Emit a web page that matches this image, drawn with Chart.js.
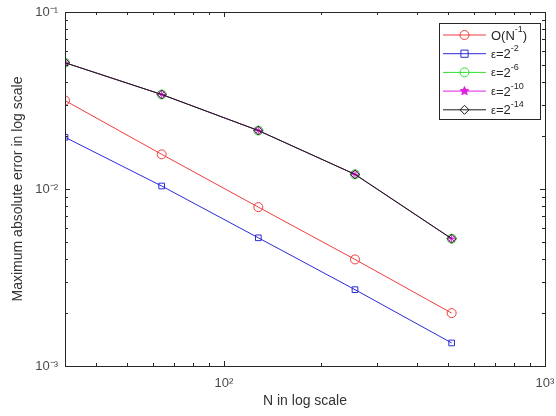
<!DOCTYPE html>
<html>
<head>
<meta charset="utf-8">
<script src="https://cdn.jsdelivr.net/npm/chart.js@4.4.1/dist/chart.umd.min.js"></script>
<style>
html,body{margin:0;padding:0;background:#fff;}
#wrap{width:556px;height:416px;position:relative;}
</style>
</head>
<body>
<div id="wrap"><canvas id="c" width="556" height="416"></canvas></div>
<script>
// ---- data ----
const nValues = [32, 64, 128, 256, 512];
const orderRef = [0.0316, 0.0157, 0.0079, 0.0040, 0.00199];   // O(N^-1)
const eps2m2  = [0.0196, 0.0104, 0.0053, 0.0027, 0.00135];    // eps = 2^-2
const eps2m6  = [0.0517, 0.0342, 0.0214, 0.0121, 0.00524];    // eps = 2^-6
const eps2m10 = [0.0517, 0.0342, 0.0214, 0.0121, 0.00524];    // eps = 2^-10
const eps2m14 = [0.0517, 0.0342, 0.0214, 0.0121, 0.00524];    // eps = 2^-14
const xTickValues = [100, 1000];
const xTickLabels = ['10\u00B2', '10\u00B3'];
const yTickValues = [0.001, 0.01, 0.1];
const yTickLabels = ['10\u207B\u00B3', '10\u207B\u00B2', '10\u207B\u00B9'];
const legendBase = ['O(N', '\u03B5=2', '\u03B5=2', '\u03B5=2', '\u03B5=2'];
const legendSup  = ['-1', '-2', '-6', '-10', '-14'];
const legendTail = [')', '', '', '', ''];
const xTitle = 'N in log scale';
const yTitle = 'Maximum absolute error in log scale';

const series = [
  {data: orderRef, color: '#f03c3c', style: 'circle', fill: 'rgba(0,0,0,0)', order: 5},
  {data: eps2m2,  color: '#2a2ad8', style: 'rect', fill: 'rgba(0,0,0,0)', order: 4},
  {data: eps2m6,  color: '#30e030', style: 'circle', fill: 'rgba(0,0,0,0)', order: 3},
  {data: eps2m10, color: '#e020e0', style: 'star', fill: '#e020e0', order: 2},
  {data: eps2m14, color: '#1a1a1a', style: 'rectRot', fill: 'rgba(0,0,0,0)', order: 1}
];

const FONT = "'Liberation Sans', Arial, Helvetica, sans-serif";

function drawMarker(ctx, style, x, y, r, color, fill) {
  ctx.save();
  ctx.strokeStyle = color; ctx.fillStyle = fill; ctx.lineWidth = 1;
  ctx.beginPath();
  if (style === 'circle') { ctx.arc(x, y, r, 0, Math.PI*2); ctx.fill(); ctx.stroke(); }
  else if (style === 'rect') { const s = r*0.8; ctx.rect(x-s, y-s, 2*s, 2*s); ctx.fill(); ctx.stroke(); }
  else if (style === 'rectRot') { ctx.moveTo(x, y-r); ctx.lineTo(x+r, y); ctx.lineTo(x, y+r); ctx.lineTo(x-r, y); ctx.closePath(); ctx.fill(); ctx.stroke(); }
  else if (style === 'star') {
    for (let i = 0; i < 5; i++) {
      const a1 = -Math.PI/2 + i*2*Math.PI/5, a2 = a1 + Math.PI/5;
      ctx.lineTo(x + r*Math.cos(a1), y + r*Math.sin(a1));
      ctx.lineTo(x + r*0.45*Math.cos(a2), y + r*0.45*Math.sin(a2));
    }
    ctx.closePath(); ctx.fill(); ctx.stroke();
  }
  ctx.restore();
}

const framePlugin = {
  id: 'frame',
  afterDatasetsDraw(chart) {
    const {ctx, chartArea: a, scales: {x, y}} = chart;
    ctx.save();
    ctx.strokeStyle = '#262626';
    ctx.lineWidth = 1;
    ctx.beginPath();
    for (let e = 1; e <= 3; e++) {
      for (let m = 1; m <= 9; m++) {
        const v = m * Math.pow(10, e);
        if (v < 32 || v > 1000) continue;
        const px = Math.round(x.getPixelForValue(v)) + 0.5;
        const len = (m === 1) ? 5 : 3;
        ctx.moveTo(px, a.bottom); ctx.lineTo(px, a.bottom - len);
        ctx.moveTo(px, a.top); ctx.lineTo(px, a.top + len);
      }
    }
    for (let e = -3; e <= -1; e++) {
      for (let m = 1; m <= 9; m++) {
        const v = m * Math.pow(10, e);
        if (v < 0.001 || v > 0.1 + 1e-12) continue;
        const py = Math.round(y.getPixelForValue(v)) + 0.5;
        const len = (m === 1) ? 5 : 3;
        ctx.moveTo(a.left, py); ctx.lineTo(a.left + len, py);
        ctx.moveTo(a.right, py); ctx.lineTo(a.right - len, py);
      }
    }
    ctx.stroke();
    ctx.strokeRect(Math.round(a.left) + 0.5, Math.round(a.top) + 0.5,
                   Math.round(a.right - a.left), Math.round(a.bottom - a.top));
    ctx.restore();
  },
  afterDraw(chart) {
    const ctx = chart.ctx;
    const bx = 439.5, by = 23.5, bw = 101, bh = 96;
    ctx.save();
    ctx.fillStyle = '#fff';
    ctx.fillRect(bx, by, bw, bh);
    ctx.strokeStyle = '#262626';
    ctx.lineWidth = 1;
    ctx.strokeRect(bx, by, bw, bh);
    for (let i = 0; i < series.length; i++) {
      const s = series[i];
      const ry = 35 + i * 18.7;
      ctx.strokeStyle = s.color;
      ctx.beginPath(); ctx.moveTo(443, ry); ctx.lineTo(486, ry); ctx.stroke();
      drawMarker(ctx, s.style, 464.5, ry, 4.5, s.color, s.fill);
      ctx.fillStyle = '#262626';
      ctx.textBaseline = 'middle';
      ctx.textAlign = 'left';
      let tx = 491;
      const baseText = legendBase[i];
      if (i > 0) {
        ctx.font = '11px ' + FONT;
        ctx.fillText(baseText[0], tx, ry + 1);
        tx += ctx.measureText(baseText[0]).width;
        ctx.font = '13px ' + FONT;
        ctx.fillText(baseText.slice(1), tx, ry + 1);
        tx += ctx.measureText(baseText.slice(1)).width;
      } else {
        ctx.font = '13px ' + FONT;
        ctx.fillText(baseText, tx, ry + 1);
        tx += ctx.measureText(baseText).width;
      }
      ctx.font = '9px ' + FONT;
      ctx.fillText(legendSup[i], tx, ry - 5);
      tx += ctx.measureText(legendSup[i]).width;
      if (legendTail[i]) {
        ctx.font = '13px ' + FONT;
        ctx.fillText(legendTail[i], tx, ry + 1);
      }
    }
    ctx.restore();
  }
};

const datasets = series.map((s, i) => ({
  label: legendBase[i] + legendSup[i] + legendTail[i],
  data: nValues.map((n, j) => ({x: n, y: s.data[j]})),
  borderColor: s.color,
  backgroundColor: s.fill,
  borderWidth: 1,
  pointStyle: s.style,
  pointRadius: s.style === 'rect' ? 4 : 4.5,
  pointBorderWidth: 1,
  pointBackgroundColor: s.fill,
  pointBorderColor: s.color,
  tension: 0,
  order: s.order
}));

new Chart(document.getElementById('c'), {
  type: 'line',
  data: {datasets},
  options: {
    responsive: false,
    animation: false,
    devicePixelRatio: 1,
    layout: {padding: {top: 12, right: 11, left: 0, bottom: 0}},
    plugins: {legend: {display: false}, tooltip: {enabled: false}},
    scales: {
      x: {
        type: 'logarithmic',
        min: 32, max: 1000,
        afterFit(s) { s.height = 50; s.paddingLeft = 0; s.paddingRight = 0; },
        grid: {display: false, drawTicks: false},
        border: {display: false},
        ticks: {
          autoSkip: false, maxRotation: 0, padding: 10,
          color: '#4a4a4a',
          font: {family: FONT, size: 13},
          callback(v) { const k = xTickValues.findIndex(t => Math.abs(t - v) < 1e-6); return k >= 0 ? xTickLabels[k] : ''; }
        },
        title: {display: true, text: xTitle, color: '#333', font: {family: FONT, size: 14}, padding: {top: 0, bottom: 6}}
      },
      y: {
        type: 'logarithmic',
        min: 0.001, max: 0.1,
        afterFit(s) { s.width = 65; s.paddingTop = 0; s.paddingBottom = 0; },
        grid: {display: false, drawTicks: false},
        border: {display: false},
        ticks: {
          autoSkip: false, padding: 7,
          color: '#4a4a4a',
          font: {family: FONT, size: 13},
          callback(v) { const k = yTickValues.findIndex(t => Math.abs(t - v) / t < 1e-6); return k >= 0 ? yTickLabels[k] : ''; }
        },
        title: {display: true, text: yTitle, color: '#333', font: {family: FONT, size: 14}, padding: {top: 10, bottom: 0}}
      }
    }
  },
  plugins: [framePlugin]
});
</script>
</body>
</html>
